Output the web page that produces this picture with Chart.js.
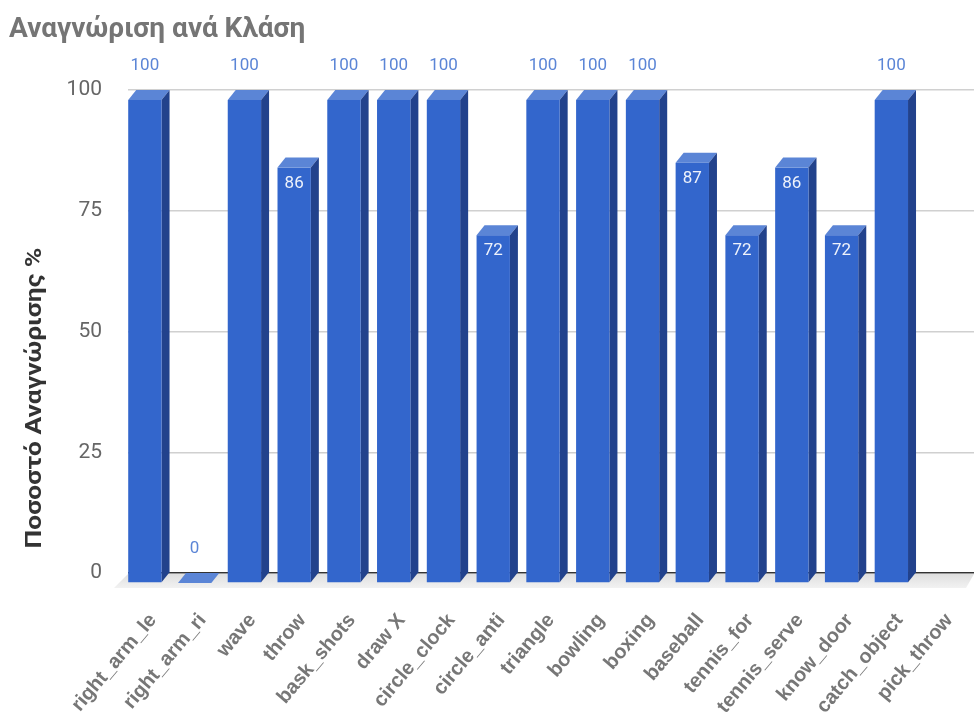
<!DOCTYPE html>
<html>
<head>
<meta charset="utf-8">
<script src="https://cdn.jsdelivr.net/npm/chart.js@4"></script>
<style>
  html, body { margin: 0; padding: 0; background: #fff; }
</style>
</head>
<body>
<canvas id="recognition" width="974" height="724"></canvas>
<script>
// recognition rate per class
const classes = ['right_arm_le', 'right_arm_ri', 'wave', 'throw', 'bask_shots', 'draw X',
  'circle_clock', 'circle_anti', 'triangle', 'bowling', 'boxing', 'baseball',
  'tennis_for', 'tennis_serve', 'know_door', 'catch_object', 'pick_throw'];
const rates = [100, 0, 100, 86, 100, 100, 100, 72, 100, 100, 100, 87, 72, 86, 72, 100, null];
const yTicks = [0, 25, 50, 75, 100];

const chartTitle = 'Αναγνώριση ανά Κλάση';
const yTitle = 'Ποσοστό Αναγνώρισης %';

// depth of the fake 3d extrusion
const DX = 8, DY = 10;
const FRONT = '#3366cc', SIDE = '#22428c', TOP = '#5b85d6';

const bars3d = {
  id: 'bars3d',
  beforeDatasetsDraw(chart) {
    const { ctx, chartArea: a } = chart;
    const base = chart.scales.y.getPixelForValue(0);
    // floor under the bars
    const g = ctx.createLinearGradient(0, base, 0, base + DY + 6);
    g.addColorStop(0, '#dedede');
    g.addColorStop(1, '#f3f3f3');
    ctx.save();
    ctx.fillStyle = g;
    ctx.beginPath();
    ctx.moveTo(a.left, base + 1);
    ctx.lineTo(a.right, base + 1);
    ctx.lineTo(a.right - DX, base + DY + 5);
    ctx.lineTo(a.left - DX - 6, base + DY + 5);
    ctx.closePath();
    ctx.fill();
    ctx.restore();
  },
  afterDatasetsDraw(chart) {
    const { ctx } = chart;
    const meta = chart.getDatasetMeta(0);
    ctx.save();
    meta.data.forEach((bar, i) => {
      const v = rates[i];
      if (v === null || v === undefined) return;
      const { x, y, base, width } = bar.getProps(['x', 'y', 'base', 'width'], true);
      const l = x - width / 2, r = x + width / 2;
      // top face
      ctx.fillStyle = TOP;
      ctx.beginPath();
      ctx.moveTo(l - DX, y + DY);
      ctx.lineTo(r - DX, y + DY);
      ctx.lineTo(r, y);
      ctx.lineTo(l, y);
      ctx.closePath();
      ctx.fill();
      if (v > 0) {
        // side face
        ctx.fillStyle = SIDE;
        ctx.beginPath();
        ctx.moveTo(r - DX, y + DY);
        ctx.lineTo(r, y);
        ctx.lineTo(r, base);
        ctx.lineTo(r - DX, base + DY);
        ctx.closePath();
        ctx.fill();
        // front face
        ctx.fillStyle = FRONT;
        ctx.fillRect(l - DX, y + DY, width, base - y);
      }
      // value label
      ctx.font = '17px Roboto';
      ctx.textAlign = 'center';
      ctx.textBaseline = 'middle';
      const cx = x - DX;
      if (v === 100 || v === 0) {
        ctx.fillStyle = '#5b85d6';
        ctx.fillText(String(v), cx, y - 24);
      } else {
        ctx.fillStyle = '#eef2fb';
        ctx.fillText(String(v), cx, y + DY + 16);
      }
    });
    ctx.restore();
  },
  afterDraw(chart) {
    const { ctx } = chart;
    ctx.save();
    ctx.fillStyle = '#757575';
    ctx.font = 'bold 28px Roboto';
    ctx.textAlign = 'left';
    ctx.textBaseline = 'alphabetic';
    ctx.fillText(chartTitle, 9, 37);
    ctx.translate(35, 398);
    ctx.rotate(-Math.PI / 2);
    ctx.scale(1.2, 1);
    ctx.fillStyle = '#333';
    ctx.font = 'bold 22px Roboto';
    ctx.textAlign = 'center';
    ctx.textBaseline = 'middle';
    ctx.fillText(yTitle, 0, 0);
    ctx.restore();
  }
};

const ctx = document.getElementById('recognition').getContext('2d');
new Chart(ctx, {
  type: 'bar',
  data: {
    labels: classes,
    datasets: [{
      label: yTitle,
      data: rates,
      backgroundColor: 'rgba(0,0,0,0)',
      borderWidth: 0,
      categoryPercentage: 1,
      barPercentage: 0.67
    }]
  },
  options: {
    responsive: false,
    animation: false,
    devicePixelRatio: 1,
    layout: { padding: { top: 90, right: -6, left: 0, bottom: 0 } },
    plugins: {
      legend: { display: false },
      tooltip: { enabled: false }
    },
    scales: {
      x: {
        grid: { display: false },
        border: { display: false },
        ticks: {
          minRotation: 50,
          maxRotation: 50,
          autoSkip: false,
          padding: 28,
          color: '#777',
          font: { family: 'Liberation Sans', size: 20, weight: 'bold' }
        },
        afterFit(scale) {
          scale.height = 151;
          scale.paddingLeft = 0;
          scale.paddingRight = 0;
        }
      },
      y: {
        min: 0,
        max: 100,
        afterBuildTicks(scale) { scale.ticks = yTicks.map(v => ({ value: v })); },
        grid: {
          drawTicks: false,
          color: ctx => ctx.tick && ctx.tick.value === 0 ? '#333' : '#d0d0d0',
          lineWidth: 1.5
        },
        border: { display: false },
        ticks: {
          padding: 26,
          color: '#666',
          font: { family: 'Roboto', size: 21 }
        },
        afterFit(scale) { scale.width = 128; }
      }
    }
  },
  plugins: [bars3d]
});
</script>
</body>
</html>
